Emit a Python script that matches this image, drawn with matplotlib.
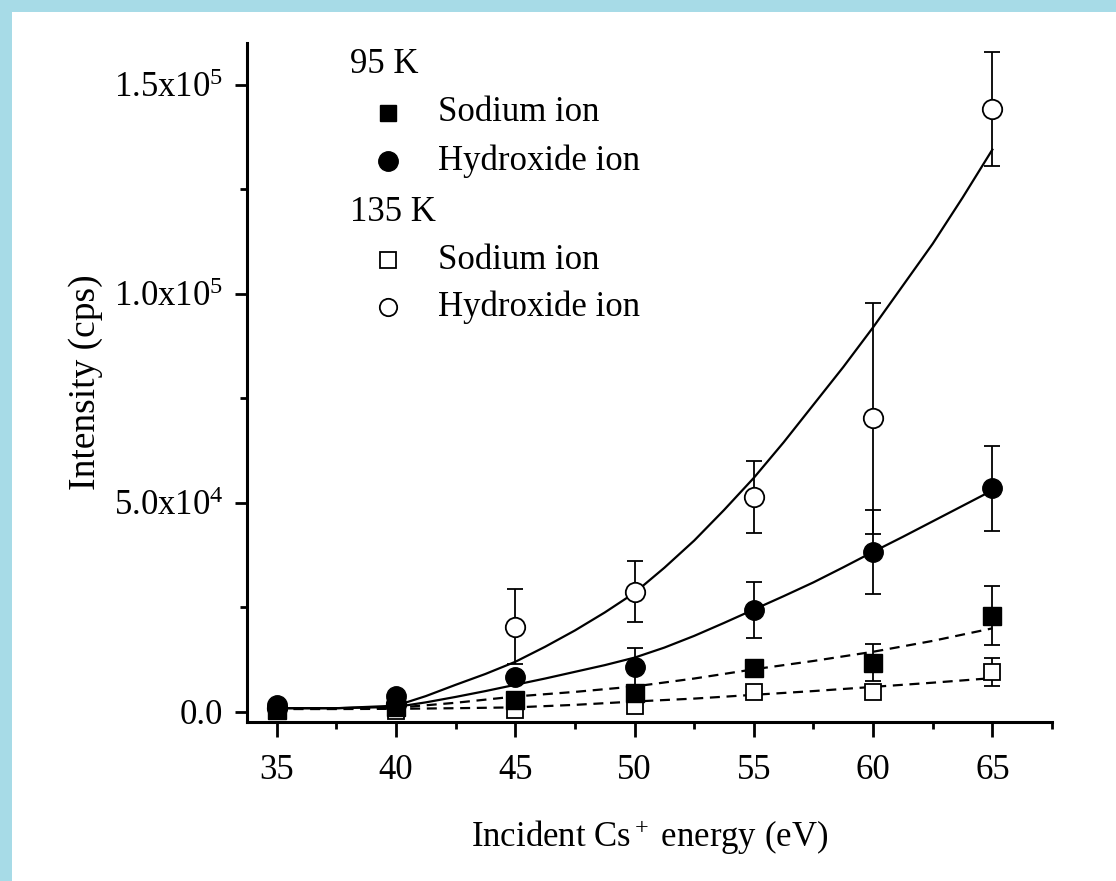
import numpy as np
import matplotlib
matplotlib.use('Agg')
import matplotlib.pyplot as plt
from matplotlib.patches import Rectangle

plt.rcParams['font.family'] = ['Liberation Serif', 'DejaVu Serif']
plt.rcParams['mathtext.fontset'] = 'custom'
plt.rcParams['mathtext.rm'] = 'Liberation Serif'
plt.rcParams['mathtext.it'] = 'Liberation Serif:italic'

# ---- data ----
energy = [35, 40, 45, 50, 55, 60, 65]

na_95 = [500, 1300, 2900, 4500, 10400, 11800, 23000]
na_95_err = [0, 0, 0, 0, 0, 4500, 7100]
oh_95 = [1600, 3800, 8400, 10800, 24500, 38300, 53500]
oh_95_err = [0, 0, 0, 4600, 6700, 10000, 10200]
na_135 = [200, 200, 500, 1500, 4800, 4700, 9500]
na_135_err = [0, 0, 0, 0, 0, 0, 3400]
oh_135 = [1000, 2000, 20400, 28800, 51400, 70200, 144200]
oh_135_err = [0, 0, 9000, 7200, 8700, 27600, 13600]

# fitted curves (solid: hydroxide, read every 1.25 eV; dashed: sodium, every 2.5 eV)
fit_energy_fine = [35, 37.5, 40, 41.25, 42.5, 43.75, 45, 46.25, 47.5, 48.75, 50,
                   51.25, 52.5, 53.75, 55, 56.25, 57.5, 58.75, 60, 61.25, 62.5, 63.75, 65]
fit_oh_135 = [900, 900, 1500, 3800, 6500, 9100, 12000, 15600, 19500, 23800, 28500,
              34500, 41000, 48300, 56000, 64500, 73500, 82500, 92000, 102000, 112000,
              123000, 134500]
fit_oh_95 = [900, 900, 1200, 2300, 3600, 5000, 6500, 8000, 9600, 11200, 13000,
             15400, 18200, 21300, 24500, 27700, 31000, 34600, 38300, 41900, 45600,
             49300, 53000]
fit_energy = [35, 37.5, 40, 42.5, 45, 47.5, 50, 52.5, 55, 57.5, 60, 62.5, 65]
fit_na_95 = [900, 900, 1000, 2200, 3700, 4800, 6100, 8000, 10200, 12200, 14400, 17000, 20000]
fit_na_135 = [700, 700, 750, 900, 1100, 1700, 2500, 3200, 4100, 5000, 6000, 7000, 8100]

xticks = [35, 40, 45, 50, 55, 60, 65]
yticks = [0, 50000, 100000, 150000]
ytick_labels = ['0.0', '5.0x10$^4$', '1.0x10$^5$', '1.5x10$^5$']

W, H = 1116, 881
fig = plt.figure(figsize=(W / 100, H / 100), dpi=100, facecolor='#a7dbe7')
fig.patches.append(Rectangle((12 / W, 0), 1, 1 - 12 / H, transform=fig.transFigure,
                             facecolor='white', edgecolor='none', zorder=-10))
ax = fig.add_axes([247 / W, 1 - 722 / H, (1052 - 247) / W, (722 - 43) / H])
ax.set_facecolor('none')

# fitted lines
ax.plot(fit_energy_fine, fit_oh_135, color='black', lw=1.6, zorder=2)
ax.plot(fit_energy_fine, fit_oh_95, color='black', lw=1.6, zorder=2)
ax.plot(fit_energy, fit_na_95, color='black', lw=1.6, ls=(0, (4.5, 3)), zorder=2)
ax.plot(fit_energy, fit_na_135, color='black', lw=1.6, ls=(0, (4.5, 3)), zorder=2)

eb = dict(ecolor='black', elinewidth=1.3, capsize=6, capthick=1.3, ls='none', zorder=3)
ax.errorbar(energy, oh_135, yerr=oh_135_err, marker='o', ms=14, mfc='white',
            mec='black', mew=1.3, **eb)
ax.errorbar(energy, na_135, yerr=na_135_err, marker='s', ms=12, mfc='white',
            mec='black', mew=1.3, **eb)
ax.errorbar(energy, na_95, yerr=na_95_err, marker='s', ms=12.5, mfc='black',
            mec='black', **eb)
ax.errorbar(energy, oh_95, yerr=oh_95_err, marker='o', ms=14, mfc='black',
            mec='black', **eb)

ax.set_xlim(33.75, 67.5)
ax.set_ylim(-2400, 160000)
ax.set_xticks(xticks)
ax.set_xticks(np.arange(37.5, 68, 5), minor=True)
ax.set_yticks(yticks)
ax.set_yticklabels(ytick_labels)
ax.set_yticks([25000, 75000, 125000], minor=True)

for s in ['top', 'right']:
    ax.spines[s].set_visible(False)
for s in ['left', 'bottom']:
    ax.spines[s].set_linewidth(2.2)
ax.tick_params(axis='both', which='major', direction='out', length=9, width=2,
               labelsize=25, pad=8)
ax.tick_params(axis='both', which='minor', direction='out', length=5, width=2)
ax.tick_params(axis='x', which='major', length=11, pad=12)

ax.set_xlabel('Incident Cs$^+$ energy (eV)', fontsize=25, labelpad=22)
ax.set_ylabel('Intensity (cps)', fontsize=27, labelpad=8)

# custom legend block
tx = 0.128
mx, lx = 0.175, 0.237
rows = [0.968, 0.897, 0.826, 0.751, 0.680, 0.611]
fs = 25
ax.text(tx, rows[0], '95 K', transform=ax.transAxes, fontsize=fs, va='center', ha='left')
ax.plot([mx], [rows[1]], 's', ms=12, color='black', transform=ax.transAxes, clip_on=False)
ax.text(lx, rows[1], 'Sodium ion', transform=ax.transAxes, fontsize=fs, va='center')
ax.plot([mx], [rows[2]], 'o', ms=14, color='black', transform=ax.transAxes, clip_on=False)
ax.text(lx, rows[2], 'Hydroxide ion', transform=ax.transAxes, fontsize=fs, va='center')
ax.text(tx, rows[3], '135 K', transform=ax.transAxes, fontsize=fs, va='center', ha='left')
ax.plot([mx], [rows[4]], 's', ms=11, mfc='white', mec='black', mew=1.3,
        transform=ax.transAxes, clip_on=False)
ax.text(lx, rows[4], 'Sodium ion', transform=ax.transAxes, fontsize=fs, va='center')
ax.plot([mx], [rows[5]], 'o', ms=12.5, mfc='white', mec='black', mew=1.3,
        transform=ax.transAxes, clip_on=False)
ax.text(lx, rows[5], 'Hydroxide ion', transform=ax.transAxes, fontsize=fs, va='center')

fig.savefig('out.png', dpi=100, facecolor=fig.get_facecolor())
